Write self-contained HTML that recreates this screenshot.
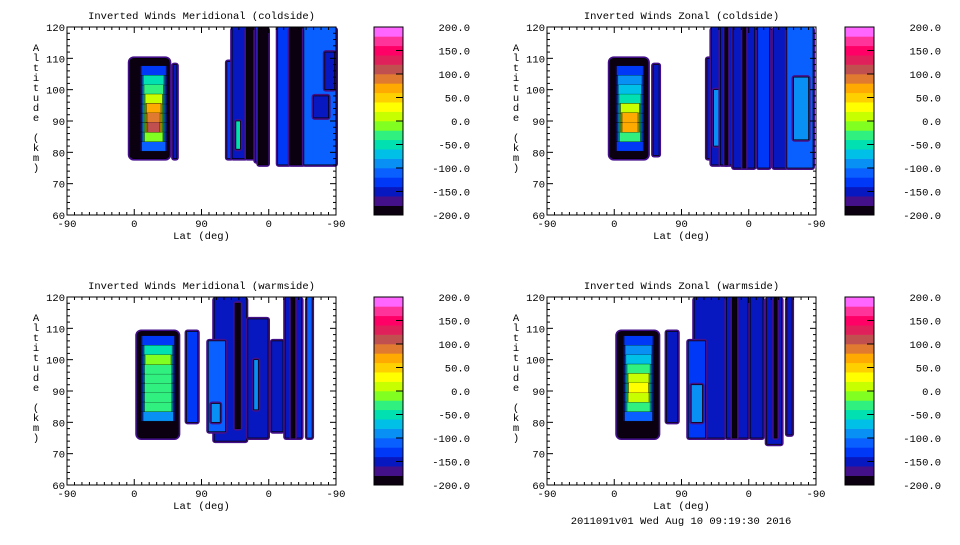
<!DOCTYPE html>
<html><head><meta charset="utf-8"><style>
html,body{margin:0;padding:0;background:#fff;}
svg text{font-family:"Liberation Mono",monospace;font-size:10.5px;fill:#000;}
</style></head><body>
<svg id="fig" width="960" height="540" xmlns="http://www.w3.org/2000/svg"></svg>
<script>
// colour levels (-200..200 step 20)
const levelEdges = [-200,-180,-160,-140,-120,-100,-80,-60,-40,-20,0,20,40,60,80,100,120,140,160,180,200];
const levelColors = ["#0a0010","#44108a","#0818c0","#0038f8","#0a60ff","#0890f4","#00c0e8","#00e0b0","#30f080","#80ff20","#c8ff00","#ffff00","#ffd000","#ffaa00","#e07a30","#c05050","#e0205a","#ff0066","#ff3399","#ff66ff"];
const cbarLabels = ["200.0","150.0","100.0","50.0","0.0","-50.0","-100.0","-150.0","-200.0"];
const xTickLabels = ["-90","0","90","0","-90"];
const yTickLabels = ["60","70","80","90","100","110","120"];
const panelTitles = ["Inverted Winds Meridional (coldside)","Inverted Winds Zonal (coldside)","Inverted Winds Meridional (warmside)","Inverted Winds Zonal (warmside)"];
// stripes: [track0, track1, altBottom, altTop, value]  (track 0..360 = -90..0..90..0..-90 lat)
const stripesTL = [[142,147,78,108,-150],[214,221,78,109,-140],[221,240,78,120,-160],[226,232,81,90,-60],[240,252,78,120,-195],[252,256,77,120,-140],[256,269,76,120,-195],[282,298,76,120,-140],[298,317,76,120,-195],[317,360,76,120,-120],[330,350,91,98,-150],[345,358,100,112,-150]];
const stripesTR = [[142,150,79,108,-160],[214,220,78,110,-150],[220,232,76,120,-150],[223,230,82,100,-90],[232,249,76,120,-150],[238,242,76,120,-195],[249,278,75,120,-150],[262,266,75,120,-195],[282,298,75,120,-140],[303,321,75,120,-150],[321,356,75,120,-120],[330,350,84,104,-100]];
const stripesBL = [[160,175,80,109,-140],[197,240,74,120,-150],[189,212,77,106,-110],[193,205,80,86,-90],[225,232,78,118,-195],[242,269,75,113,-150],[250,256,84,100,-100],[274,289,77,106,-150],[292,314,75,120,-160],[300,305,75,120,-195],[321,328,75,120,-120]];
const stripesBR = [[160,175,80,109,-150],[197,238,75,120,-150],[189,212,75,106,-130],[193,208,80,92,-100],[240,269,75,120,-150],[248,254,75,120,-195],[272,289,75,120,-150],[294,314,73,120,-150],[304,308,75,120,-195],[321,328,76,120,-150]];
// main blob: [track0,track1,altBottom,altTop] ; row altitudes & values
const blobBoxes = [[84,137,78,110],[84,135,78,110],[94,149,75,109],[94,149,75,109]];
const blobInset = [[14,3],[8,5],[5,4],[8,6]];
const blobAlts = [79,82,85,88,91,94,97,100,103,106,109];
const blobValsTL = [-190,-120,-20,100,95,60,10,-30,-60,-130,-190];
const blobValsTR = [-190,-130,-40,70,60,10,-60,-80,-90,-140,-190];
const blobValsBL = [-190,-100,-40,-30,-40,-40,-30,-10,-60,-130,-190];
const blobValsBR = [-190,-120,-30,10,20,0,-30,-70,-90,-140,-190];

const NS="http://www.w3.org/2000/svg";
const svg=document.getElementById('fig');
function mk(tag,attrs,parent){const e=document.createElementNS(NS,tag);for(const k in attrs)e.setAttribute(k,attrs[k]);(parent||svg).appendChild(e);return e;}
function colorOf(v){for(let i=0;i<levelColors.length;i++){if(v<levelEdges[i+1])return levelColors[i];}return levelColors[levelColors.length-1];}

const panels=[
 {x:67,y:27,cb:374,stripes:stripesTL,blob:blobValsTL},
 {x:547,y:27,cb:845,stripes:stripesTR,blob:blobValsTR},
 {x:67,y:297,cb:374,stripes:stripesBL,blob:blobValsBL},
 {x:547,y:297,cb:845,stripes:stripesBR,blob:blobValsBR}];
const W=269,H=188;

panels.forEach((p,pi)=>{
 const g=mk('g',{});
 
 
 const sx=t=>p.x+t*W/360;
 const sy=a=>p.y+H-(a-60)*H/60;
 // stripes
 p.stripes.forEach((s,si)=>{
  const x0=sx(s[0]),x1=sx(s[1]),y0=sy(s[3]),y1=sy(s[2]);
  const top=s[3]>=120;
  const o=mk('rect',{x:x0-2,y:top?y0:y0-2,width:x1-x0+4,height:y1-y0+(top?2:4),rx:3,fill:colorOf(-175)},g);
  
  
  const r=mk('rect',{x:x0,y:y0,width:Math.max(1,x1-x0),height:y1-y0,fill:colorOf(s[4]),stroke:'#000','stroke-width':0.7},g);
  
  
 });
 // blob
 const b=blobBoxes[pi],ins=blobInset[pi];
 const bx0=sx(b[0]),bx1=sx(b[1]),by0=sy(b[3]),by1=sy(b[2]);
 const bo=mk('rect',{x:bx0-2,y:by0-2,width:bx1-bx0+4,height:by1-by0+4,rx:6,fill:colorOf(-175)},g);
 
 
 mk('rect',{x:bx0,y:by0,width:bx1-bx0,height:by1-by0,rx:4,fill:colorOf(-195),stroke:'#000','stroke-width':0.7},g);
 const cx0=sx(b[0]+ins[0]),cx1=sx(b[1]-ins[1]);
 for(let L=-180;L<200;L+=20){
  const k=(L+180)/20;
  p.blob.forEach((v,i)=>{
   if(v<L)return;
   const a0=Math.max(b[2],blobAlts[i]-1.6),a1=Math.min(b[3],blobAlts[i]+1.6);
   const inset=Math.min(k*0.55,(cx1-cx0)/2-2);
   const r=mk('rect',{x:cx0+inset,y:sy(a1),width:Math.max(1,cx1-cx0-2*inset),height:sy(a0)-sy(a1),fill:levelColors[k+1],stroke:'#000','stroke-width':0.25},g);
   
   
  });
 }
 // axes frame
 const fr=mk('rect',{x:p.x,y:p.y,width:W,height:H,fill:'none',stroke:'#000','stroke-width':1},g);
 
 
 for(let t=0;t<=360;t+=10){
  const len=(t%90===0)?6:3;const X=sx(t);
  mk('line',{x1:X,y1:p.y+H,x2:X,y2:p.y+H-len,stroke:'#000'},g);
  mk('line',{x1:X,y1:p.y,x2:X,y2:p.y+len,stroke:'#000'},g);
 }
 for(let a=60;a<=120;a+=2){
  const len=(a%10===0)?6:3;const Y=sy(a);
  mk('line',{x1:p.x,y1:Y,x2:p.x+len,y2:Y,stroke:'#000'},g);
  mk('line',{x1:p.x+W,y1:Y,x2:p.x+W-len,y2:Y,stroke:'#000'},g);
 }
 xTickLabels.forEach((l,i)=>{
  const t=mk('text',{x:sx(i*90),y:p.y+H+12,'text-anchor':'middle'},g);t.textContent=l;
  
  
 });
 yTickLabels.forEach((l,i)=>{
  const t=mk('text',{x:p.x-2,y:sy(60+i*10)+4,'text-anchor':'end'},g);t.textContent=l;
  
  
 });
 const xt=mk('text',{x:p.x+W/2,y:p.y+H+24,'text-anchor':'middle'},g);xt.textContent='Lat (deg)';
 
 
 const yt=mk('text',{x:p.x-31,y:p.y+21,'text-anchor':'middle'},g);
 
 
 'Altitude (km)'.split('').forEach((c,i)=>{const ts=mk('tspan',{x:p.x-31,y:p.y+24+i*10},yt);ts.textContent=c;});
 const ti=mk('text',{x:p.x+W/2,y:p.y-8,'text-anchor':'middle'},g);ti.textContent=panelTitles[pi];
 
 
 // colorbar
 const cbg=mk('g',{},g);
 
 
 const bandH=H/levelColors.length;
 levelColors.forEach((c,i)=>{mk('rect',{x:p.cb,y:p.y+H-(i+1)*bandH,width:29,height:bandH+0.3,fill:c},cbg);});
 mk('rect',{x:p.cb,y:p.y,width:29,height:H,fill:'none',stroke:'#000'},cbg);
 cbarLabels.forEach((l,i)=>{
  const Y=p.y+i*H/8;
  if(i>0&&i<8)mk('line',{x1:p.cb+22,y1:Y,x2:p.cb+29,y2:Y,stroke:'#000'},cbg);
  const t=mk('text',{x:p.cb+96,y:Y+4,'text-anchor':'end'},cbg);t.textContent=l;
  
  
 });
});
const ft=mk('text',{x:681,y:524,'text-anchor':'middle'});ft.textContent='2011091v01 Wed Aug 10 09:19:30 2016';


</script>
</body></html>
